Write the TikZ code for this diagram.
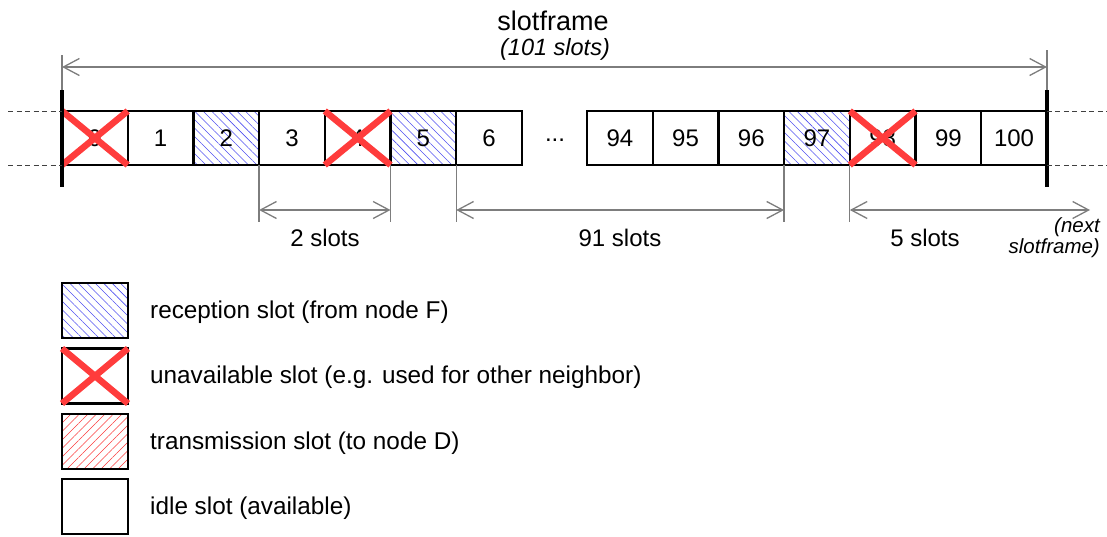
\documentclass[tikz,border=0pt]{standalone}
\usepackage{fontspec}
\setmainfont{Liberation Sans}
\usetikzlibrary{arrows.meta,patterns.meta}
\definecolor{xred}{RGB}{255,60,60}
\definecolor{hblue}{RGB}{80,80,240}
\definecolor{hred}{RGB}{250,60,60}
\definecolor{dimgray}{RGB}{125,125,125}
\tikzset{
  slotbox/.style={draw=black, line width=2.2pt, minimum width=65.7pt, minimum height=54pt, inner sep=0pt, outer sep=0pt, font=\fontsize{24}{28}\selectfont},
  rxslot/.style={slotbox, pattern={Lines[angle=-45,distance=6pt,line width=0.55pt]}, pattern color=hblue},
  txslot/.style={slotbox, pattern={Lines[angle=45,distance=6pt,line width=0.55pt]}, pattern color=hred},
  xmark/.style={draw=xred, line width=6.5pt},
  dimline/.style={draw=dimgray, line width=1.3pt},
  dimarrow/.style={dimline, {Straight Barb[length=16pt,width=17pt,line width=1.3pt]}-{Straight Barb[length=16pt,width=17pt,line width=1.3pt]}},
  bar/.style={draw=black, line width=4pt},
  guide/.style={draw=black!75, line width=1pt, dash pattern=on 5pt off 3.5pt},
  lbl/.style={font=\fontsize{24}{28}\selectfont, inner sep=0pt},
  legtext/.style={font=\fontsize{24.3}{28}\selectfont, anchor=west, inner sep=0pt},
}
\begin{document}
\begin{tikzpicture}[x=1pt,y=-1pt]
\useasboundingbox (0,0) rectangle (1107,536);
% left group of slots
\node[slotbox] (s0) at (94.85,138) {0};
\node[slotbox] (s1) at (160.55,138) {1};
\node[rxslot]  (s2) at (226.25,138) {2};
\node[slotbox] (s3) at (291.95,138) {3};
\node[slotbox] (s4) at (357.65,138) {4};
\node[rxslot]  (s5) at (423.35,138) {5};
\node[slotbox] (s6) at (489.05,138) {6};
\node[lbl] (dots) at (555,140) {...};
% right group
\node[slotbox] (s94) at (619.85,138) {94};
\node[slotbox] (s95) at (685.55,138) {95};
\node[slotbox] (s96) at (751.25,138) {96};
\node[rxslot]  (s97) at (816.95,138) {97};
\node[slotbox] (s98) at (882.65,138) {98};
\node[slotbox] (s99) at (948.35,138) {99};
\node[slotbox] (s100) at (1014.05,138) {100};
% unavailable marks
\foreach \s in {s0,s4,s98}{
  \draw[xmark] (\s.north west) -- (\s.south east);
  \draw[xmark] (\s.south west) -- (\s.north east);
}
% frame boundaries
\coordinate (lt) at (62,55);
\coordinate (lb) at (62,90);
\coordinate (lbe) at (62,187);
\coordinate (rt) at (1047,50);
\coordinate (rb) at (1047,90);
\coordinate (rbe) at (1047,187);
\draw[dimline] (lt) -- (lb);
\draw[dimline] (rt) -- (rb);
\draw[bar] (lb) -- (lbe);
\draw[bar] (rb) -- (rbe);
% dashed guides
\coordinate (gl1) at (8,111);
\coordinate (gl2) at (8,165);
\coordinate (gr1) at (1107,111);
\coordinate (gr2) at (1107,165);
\draw[guide] (gl1) -- (s0.north west);
\draw[guide] (gl2) -- (s0.south west);
\draw[guide] (s100.north east) -- (gr1);
\draw[guide] (s100.south east) -- (gr2);
% top dimension
\coordinate (ta) at (62,67);
\coordinate (tb) at (1047,67);
\draw[dimarrow] (ta) -- (tb);
\node[font=\fontsize{27}{30}\selectfont, inner sep=0pt] (title) at (553,21) {slotframe};
\node[font=\fontsize{23.5}{27}\selectfont\itshape, inner sep=0pt] (sub) at (555,49) {(101 slots)};
% bottom extension lines
\foreach \s/\n in {s3/e3,s5/e5,s6/e6,s97/e97,s98/e98}{
  \coordinate (\n) at ([yshift=-57pt]\s.south west);
  \draw[dimline] (\s.south west) -- (\n);
}
\coordinate (a3) at ([yshift=12pt]e3);
\coordinate (a5) at ([yshift=12pt]e5);
\coordinate (a6) at ([yshift=12pt]e6);
\coordinate (a97) at ([yshift=12pt]e97);
\coordinate (a98) at ([yshift=12pt]e98);
\coordinate (anext) at (1090,210);
\draw[dimarrow] (a3) -- (a5);
\draw[dimarrow] (a6) -- (a97);
\draw[dimarrow] (a98) -- (anext);
\node[lbl] (l2) at (325,238) {2 slots};
\node[lbl] (l91) at (620,238) {91 slots};
\node[lbl] (l5) at (925,238) {5 slots};
\node[font=\fontsize{20.5}{21}\selectfont\itshape, align=right, anchor=east, inner sep=0pt] (next) at (1100,238) {(next\\slotframe)};
% legend
\node[rxslot, minimum width=66pt, minimum height=55pt] (k1) at (95,310.5) {};
\node[slotbox, minimum width=66pt, minimum height=55pt] (k2) at (95,376) {};
\draw[xmark] (k2.north west) -- (k2.south east);
\draw[xmark] (k2.south west) -- (k2.north east);
\node[txslot, minimum width=66pt, minimum height=55pt] (k3) at (95,441.5) {};
\node[slotbox, minimum width=66pt, minimum height=55pt] (k4) at (95,506.5) {};
\node[legtext] (t1) at (150,312) {reception slot (from node F)};
\node[legtext] (t2) at (150,377) {unavailable slot (e.g. used for other neighbor)};
\node[legtext] (t3) at (150,443) {transmission slot (to node D)};
\node[legtext] (t4) at (150,508) {idle slot (available)};
\end{tikzpicture}
\end{document}
